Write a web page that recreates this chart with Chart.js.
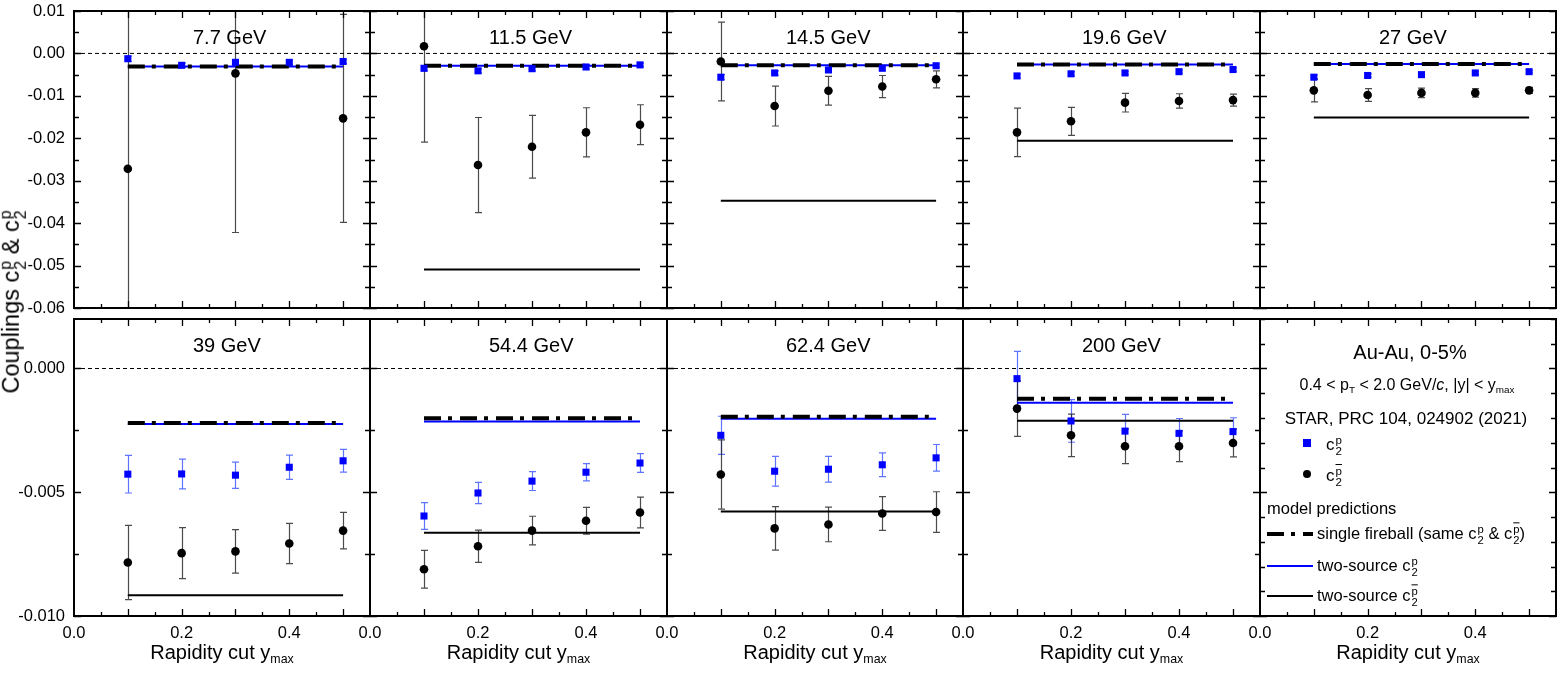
<!DOCTYPE html>
<html>
<head>
<meta charset="utf-8">
<script src="https://cdn.jsdelivr.net/npm/chart.js@4.4.1/dist/chart.umd.min.js"></script>
<style>
html, body { margin: 0; padding: 0; background: #fff; }
#wrap { position: relative; width: 1562px; height: 673px; overflow: hidden;
  font-family: "Liberation Sans", Arial, Helvetica, sans-serif; color: #000; }
#wrap canvas { position: absolute; }
.lbl { position: absolute; white-space: nowrap; line-height: 1; z-index: 2; }
.ss { display: inline-block; font-size: 0.68em; line-height: 0.95; vertical-align: -0.45em; margin-left: 1px; }
.ov { text-decoration: overline; }
.sb { font-size: 0.62em; vertical-align: -0.35em; line-height: 0; }
svg { position: absolute; z-index: 2; }
</style>
</head>
<body>
<div id="wrap"></div>
<script>
// panel titles (beam energies)
const energies = ['7.7 GeV', '11.5 GeV', '14.5 GeV', '19.6 GeV', '27 GeV',
                  '39 GeV', '54.4 GeV', '62.4 GeV', '200 GeV'];
const ymaxCuts = [0.1, 0.2, 0.3, 0.4, 0.5];

// c2 of protons (blue squares) and its errors
const c2p = [
  [-0.00125, -0.0028, -0.0021, -0.0021, -0.0019],
  [-0.0035, -0.0041, -0.0036, -0.0032, -0.0027],
  [-0.0056, -0.0046, -0.0039, -0.0035, -0.0029],
  [-0.0053, -0.0048, -0.0046, -0.0043, -0.0038],
  [-0.0056, -0.0052, -0.0050, -0.0046, -0.0043],
  [-0.00427, -0.00426, -0.00431, -0.00399, -0.00373],
  [-0.00596, -0.00503, -0.00455, -0.00419, -0.00382],
  [-0.0027, -0.00415, -0.00407, -0.00389, -0.00361],
  [-0.00041, -0.00212, -0.00253, -0.00262, -0.00255]
];
const c2pErr = [
  [0.0006, 0.0005, 0.0005, 0.0005, 0.0005],
  [0.0006, 0.0005, 0.0005, 0.0005, 0.0004],
  [0.0006, 0.0005, 0.0005, 0.0004, 0.0004],
  [0.0005, 0.0005, 0.0004, 0.0004, 0.0004],
  [0.0005, 0.0004, 0.0004, 0.0004, 0.0003],
  [0.00076, 0.0006, 0.00053, 0.00049, 0.00046],
  [0.00054, 0.00043, 0.00038, 0.00035, 0.00038],
  [0.00077, 0.0006, 0.00052, 0.00048, 0.00054],
  [0.0011, 0.00086, 0.00068, 0.0006, 0.00056]
];

// c2 of antiprotons (black circles) and its errors
const c2pbar = [
  [-0.0272, null, -0.0047, null, -0.0153],
  [0.0017, -0.0263, -0.0220, -0.0186, -0.0168],
  [-0.0019, -0.0124, -0.0088, -0.0078, -0.0061],
  [-0.0186, -0.0160, -0.0116, -0.0112, -0.0110],
  [-0.0087, -0.0098, -0.0093, -0.0093, -0.0087],
  [-0.00784, -0.00746, -0.00739, -0.00707, -0.00655],
  [-0.00811, -0.00718, -0.00655, -0.00615, -0.00582],
  [-0.00428, -0.00646, -0.0063, -0.00586, -0.0058],
  [-0.00162, -0.0027, -0.00314, -0.00314, -0.00301]
];
const c2pbarErr = [
  [0.045, null, 0.0375, null, 0.0245],
  [0.0226, 0.0112, 0.0074, 0.0058, 0.0047],
  [0.0093, 0.0047, 0.0034, 0.0026, 0.002],
  [0.0057, 0.0033, 0.0022, 0.0017, 0.0014],
  [0.0027, 0.0015, 0.0011, 0.001, 0.0007],
  [0.0015, 0.00103, 0.00088, 0.00081, 0.00074],
  [0.00076, 0.00065, 0.00058, 0.00054, 0.00062],
  [0.0014, 0.00088, 0.0007, 0.00068, 0.00082],
  [0.00112, 0.00086, 0.0007, 0.00062, 0.00056]
];

// model predictions (flat over ymax)
const fireball = [-0.0031, -0.0029, -0.0028, -0.0026, -0.0025, -0.0022, -0.00201, -0.00195, -0.00122];
const twoSourceP = [-0.0031, -0.0029, -0.0028, -0.0026, -0.0025, -0.00224, -0.00214, -0.00203, -0.00138];
const twoSourcePbar = [null, -0.0509, -0.0347, -0.0206, -0.0151, -0.00916, -0.00664, -0.00578, -0.00211];

const xRange = [0, 0.55];
const yRangeTop = [-0.06, 0.01];
const yRangeBottom = [-0.010, 0.002];

const colEdges = [74, 370, 667, 963, 1260, 1556];
const rowEdges = [[11, 308], [319, 616]];
const BLUE = '#0000ff';
const FONT = '"Liberation Sans", Arial, Helvetica, sans-serif';
const wrap = document.getElementById('wrap');

function pts(vals) {
  return ymaxCuts.map((x, i) => ({ x: x, y: vals[i] }));
}
function flat(v, x0, x1) {
  return v == null ? [] : [{ x: x0, y: v }, { x: x1, y: v }];
}

// vertical error bars with caps, clipped to plot area
const errorBars = {
  id: 'errorBars',
  beforeDatasetsDraw(chart) {
    const { ctx, chartArea: a, scales: { x, y } } = chart;
    ctx.save();
    ctx.beginPath();
    ctx.rect(a.left, a.top, a.right - a.left, a.bottom - a.top);
    ctx.clip();
    chart.data.datasets.forEach(ds => {
      if (!ds.errors) return;
      ctx.strokeStyle = ds.errorColor;
      ctx.lineWidth = 1.2;
      ds.data.forEach((p, i) => {
        const e = ds.errors[i];
        if (p.y == null || e == null) return;
        const px = Math.round(x.getPixelForValue(p.x)) + 0.5;
        const y1 = y.getPixelForValue(p.y + e);
        const y2 = y.getPixelForValue(p.y - e);
        ctx.beginPath();
        ctx.moveTo(px, y1); ctx.lineTo(px, y2);
        ctx.moveTo(px - 3.5, y1); ctx.lineTo(px + 3.5, y1);
        ctx.moveTo(px - 3.5, y2); ctx.lineTo(px + 3.5, y2);
        ctx.stroke();
      });
    });
    ctx.restore();
  }
};

// box frame with inward ticks on all four sides
const frame = {
  id: 'frame',
  afterDatasetsDraw(chart, args, opts) {
    const { ctx, chartArea: a, scales: { x, y } } = chart;
    ctx.save();
    ctx.strokeStyle = '#000';
    ctx.lineWidth = 1.3;
    ctx.beginPath();
    for (let k = 1; k * 0.05 < xRange[1] - 1e-9; k++) {
      const px = Math.round(x.getPixelForValue(k * 0.05)) + 0.5;
      const len = k % 2 === 0 ? 7 : 4;
      ctx.moveTo(px, a.bottom); ctx.lineTo(px, a.bottom - len);
      ctx.moveTo(px, a.top); ctx.lineTo(px, a.top + len);
    }
    const kMin = Math.ceil(y.min / opts.minor - 1e-6);
    const kMax = Math.floor(y.max / opts.minor + 1e-6);
    for (let k = kMin; k <= kMax; k++) {
      const v = k * opts.minor;
      const py = Math.round(y.getPixelForValue(v)) + 0.5;
      const r = v / opts.major;
      const len = Math.abs(r - Math.round(r)) < 1e-6 ? 7 : 5;
      ctx.moveTo(a.left, py); ctx.lineTo(a.left + len, py);
      ctx.moveTo(a.right, py); ctx.lineTo(a.right - len, py);
    }
    ctx.stroke();
    ctx.lineWidth = 2;
    ctx.strokeRect(a.left, a.top, a.right - a.left, a.bottom - a.top);
    ctx.restore();
  }
};

function makePanel(i) {
  const col = i % 5, row = Math.floor(i / 5);
  const left = colEdges[col], right = colEdges[col + 1];
  const top = rowEdges[row][0], bottom = rowEdges[row][1];
  const extL = col === 0 ? left : 40, extR = 40, extT = 10, extB = row === 1 ? 40 : 10;
  const yW = col === 0 ? 74 : 0;
  const xH = row === 1 ? 30 : 0;
  const W = right - left + extL + extR, H = bottom - top + extT + extB;

  const cv = document.createElement('canvas');
  cv.width = W; cv.height = H;
  cv.style.left = (left - extL) + 'px';
  cv.style.top = (top - extT) + 'px';
  cv.style.width = W + 'px';
  cv.style.height = H + 'px';
  wrap.appendChild(cv);

  const yr = row === 0 ? yRangeTop : yRangeBottom;
  const datasets = [];
  if (i < 9) {
    const x0 = ymaxCuts[0], x1 = ymaxCuts[ymaxCuts.length - 1];
    datasets.push(
      { label: 'c2p', data: pts(c2p[i]), showLine: false, pointStyle: 'rect', pointRadius: 5,
        backgroundColor: BLUE, borderColor: BLUE, pointBorderWidth: 0,
        errors: c2pErr[i], errorColor: 'rgba(40,70,255,0.75)' },
      { label: 'c2pbar', data: pts(c2pbar[i]), showLine: false, pointStyle: 'circle', pointRadius: 4.3,
        backgroundColor: '#000', borderColor: '#000', pointBorderWidth: 0,
        errors: c2pbarErr[i], errorColor: 'rgba(30,30,30,0.8)' },
      { label: 'fireball', data: flat(fireball[i], x0, x1), borderColor: '#000', borderWidth: 4,
        borderDash: [17, 7, 4, 8], pointRadius: 0 },
      { label: 'twoSourceP', data: flat(twoSourceP[i], x0, x1), borderColor: BLUE, borderWidth: 2, pointRadius: 0 },
      { label: 'twoSourcePbar', data: flat(twoSourcePbar[i], x0, x1), borderColor: '#000', borderWidth: 2, pointRadius: 0 },
      { label: 'zero', data: flat(0, xRange[0], xRange[1]), borderColor: '#000', borderWidth: 1,
        borderDash: [4, 3], pointRadius: 0 }
    );
  }

  new Chart(cv, {
    type: 'line',
    data: { datasets: datasets },
    options: {
      responsive: false,
      animation: false,
      events: [],
      layout: { autoPadding: false,
        padding: { left: extL - yW, right: extR, top: extT, bottom: extB - xH } },
      plugins: { legend: { display: false }, tooltip: { enabled: false },
        frame: { minor: i === 9 ? 0.001 : (row === 0 ? 0.005 : 0.0025), major: row === 0 ? 0.01 : 0.005 } },
      scales: {
        x: {
          type: 'linear', min: xRange[0], max: xRange[1],
          grid: { display: false, drawTicks: false }, border: { display: false },
          ticks: { display: row === 1, stepSize: 0.2, includeBounds: false, autoSkip: false, maxRotation: 0,
            padding: 8, color: '#000', font: { family: FONT, size: 16.5 },
            callback: v => (Math.abs(v) < 1e-9 ? 0 : v).toFixed(1) },
          afterFit: s => { s.height = xH; s.paddingLeft = 0; s.paddingRight = 0; }
        },
        y: {
          type: 'linear', min: yr[0], max: yr[1],
          grid: { display: false, drawTicks: false }, border: { display: false },
          ticks: { display: col === 0, stepSize: row === 0 ? 0.01 : 0.005, includeBounds: false, autoSkip: false,
            padding: 9, color: '#000', font: { family: FONT, size: 16.5 },
            callback: v => (Math.abs(v) < 1e-9 ? 0 : v).toFixed(row === 0 ? 2 : 3) },
          afterFit: s => { s.width = yW; s.paddingTop = 0; s.paddingBottom = 0; }
        }
      }
    },
    plugins: [errorBars, frame]
  });

  if (i < 9) addText(energies[i], left + 119, top + 26, 20, 'left');
  if (row === 1) addText('Rapidity cut y<span class="sb">max</span>', (left + right) / 2, 652, 20, 'center');
}

function addText(html, x, y, size, align) {
  const d = document.createElement('div');
  d.className = 'lbl';
  d.innerHTML = html;
  d.style.left = x + 'px';
  d.style.top = y + 'px';
  d.style.fontSize = size + 'px';
  d.style.transform = align === 'left' ? 'translate(0,-50%)' : 'translate(-50%,-50%)';
  wrap.appendChild(d);
  return d;
}

function cp(bar) {
  return 'c<span class="ss">' + (bar ? '<span class="ov">p</span>' : 'p') + '<br>2</span>';
}

function addLegendLine(y, color, width, dash) {
  const ns = 'http://www.w3.org/2000/svg';
  const svg = document.createElementNS(ns, 'svg');
  svg.setAttribute('width', 48); svg.setAttribute('height', 10);
  svg.style.left = '1266px'; svg.style.top = (y - 5) + 'px';
  const ln = document.createElementNS(ns, 'line');
  ln.setAttribute('x1', 1); ln.setAttribute('x2', 47);
  ln.setAttribute('y1', 5); ln.setAttribute('y2', 5);
  ln.setAttribute('stroke', color); ln.setAttribute('stroke-width', width);
  if (dash) ln.setAttribute('stroke-dasharray', dash);
  svg.appendChild(ln);
  wrap.appendChild(svg);
}

for (let i = 0; i < 10; i++) makePanel(i);

// y-axis title
const yt = addText('Couplings ' + cp(false) + ' &amp; ' + cp(true), 13, 302, 23.5, 'center');
yt.style.transform = 'translate(-50%,-50%) rotate(-90deg)';

// legend panel text
addText('Au-Au, 0-5%', 1410, 352, 20, 'center');
addText('0.4 &lt; p<span class="sb">T</span> &lt; 2.0 GeV/<i>c</i>, |y| &lt; y<span class="sb">max</span>', 1407, 385, 16, 'center');
addText('STAR, PRC 104, 024902 (2021)', 1406, 418, 17, 'center');
addText(cp(false), 1326, 446, 17, 'left');
addText(cp(true), 1326, 477, 17, 'left');
addText('model predictions', 1267, 508, 16.5, 'left');
addText('single fireball (same ' + cp(false) + ' &amp; ' + cp(true) + ')', 1317, 535, 16.5, 'left');
addText('two-source ' + cp(false), 1317, 567, 16.5, 'left');
addText('two-source ' + cp(true), 1317, 597, 16.5, 'left');
addLegendLine(534, '#000', 4, '17 7 4 8');
addLegendLine(566, BLUE, 2, null);
addLegendLine(596, '#000', 2, null);

// legend markers
const sq = document.createElement('div');
sq.style.cssText = 'position:absolute;z-index:2;left:1303px;top:439px;width:8px;height:8px;background:' + BLUE;
wrap.appendChild(sq);
const dot = document.createElement('div');
dot.style.cssText = 'position:absolute;z-index:2;left:1303px;top:470px;width:8px;height:8px;border-radius:50%;background:#000';
wrap.appendChild(dot);
</script>
</body>
</html>
